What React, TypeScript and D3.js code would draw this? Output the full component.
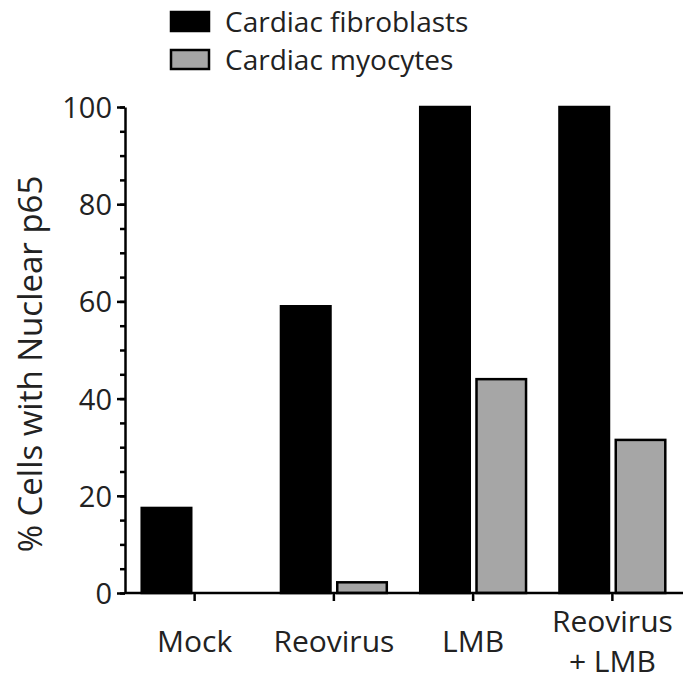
import React, { useRef, useEffect } from 'react';
import * as d3 from 'd3';

const categories = ['Mock', 'Reovirus', 'LMB', 'Reovirus\n+ LMB'];
const seriesNames = ['Cardiac fibroblasts', 'Cardiac myocytes'];
const fibroblasts = [17.5, 59, 100, 100];
const myocytes = [0, 2.2, 44, 31.5];
const yTicks = [0, 20, 40, 60, 80, 100];
const seriesColors = ['#000000', '#a6a6a6'];

function BarChart() {
  const svgRef = useRef<SVGSVGElement>(null);

  useEffect(() => {
    const svg = d3.select(svgRef.current);
    svg.selectAll('*').remove();

    const width = 683;
    const height = 685;
    const left = 125, right = 682, top = 107, bottom = 593;
    const font = "'Open Sans', sans-serif";

    svg.attr('width', width).attr('height', height);

    const x0 = d3.scaleBand().domain(categories).range([left, right])
      .paddingInner(0.24).paddingOuter(0.12);
    const x1 = d3.scaleBand().domain(seriesNames).range([0, x0.bandwidth()])
      .paddingInner(0.12);
    const y = d3.scaleLinear().domain([0, 100]).range([bottom, top]);

    const rows = categories.map((c, i) => ({ cat: c, values: [fibroblasts[i], myocytes[i]] }));

    // bars
    const groups = svg.append('g').selectAll('g')
      .data(rows)
      .enter()
      .append('g')
      .attr('transform', d => `translate(${x0(d.cat)},0)`);

    groups.selectAll('rect')
      .data(d => d.values.map((v, k) => ({ key: seriesNames[k], v, k })))
      .enter()
      .filter(d => d.v > 0)
      .append('rect')
      .attr('x', d => x1(d.key)!)
      .attr('y', d => y(d.v))
      .attr('width', x1.bandwidth())
      .attr('height', d => y(0) - y(d.v))
      .attr('fill', d => seriesColors[d.k])
      .attr('stroke', '#000')
      .attr('stroke-width', 2.5);

    // minor y ticks
    svg.append('g')
      .attr('transform', `translate(${left},0)`)
      .call(d3.axisLeft(y).tickValues(d3.range(0, 101, 5)).tickSize(5).tickFormat(() => ''))
      .call(g => g.select('.domain').remove())
      .selectAll('line').attr('stroke', '#000').attr('stroke-width', 2.5);

    // y axis
    const yAxis = svg.append('g')
      .attr('transform', `translate(${left},0)`)
      .call(d3.axisLeft(y).tickValues(yTicks).tickSize(8).tickSizeOuter(0).tickPadding(5));
    yAxis.select('.domain').attr('stroke', '#000').attr('stroke-width', 2.5);
    yAxis.selectAll('line').attr('stroke', '#000').attr('stroke-width', 2.5);
    yAxis.selectAll('text')
      .attr('font-family', font).attr('font-size', 29).attr('fill', '#222')
      .attr('dy', '0.36em');

    // x axis
    const xAxis = svg.append('g')
      .attr('transform', `translate(0,${bottom})`)
      .call(d3.axisBottom(x0).tickSize(8).tickSizeOuter(0).tickFormat(() => ''));
    xAxis.select('.domain').attr('d', `M${left},0H${width}`)
      .attr('stroke', '#000').attr('stroke-width', 2.5);
    xAxis.selectAll('line').attr('stroke', '#000').attr('stroke-width', 2.5);

    // category labels
    const labels = svg.append('g').selectAll('text')
      .data(categories)
      .enter()
      .append('text')
      .attr('x', d => x0(d)! + x0.bandwidth() / 2)
      .attr('y', 652)
      .attr('text-anchor', 'middle')
      .attr('font-family', font)
      .attr('font-size', 30)
      .attr('fill', '#222');
    labels.each(function (d) {
      const lines = d.split('\n');
      const t = d3.select(this);
      lines.forEach((ln, i) => {
        t.append('tspan')
          .attr('x', x0(d)! + x0.bandwidth() / 2)
          .attr('y', 652 + (i - (lines.length - 1) / 2) * 40)
          .text(ln);
      });
    });

    // y title
    svg.append('text')
      .attr('transform', `translate(42,${(163 + 565) / 2}) rotate(-90)`)
      .attr('text-anchor', 'middle')
      .attr('font-family', font)
      .attr('font-size', 33)
      .attr('fill', '#222')
      .text('% Cells with Nuclear p65');

    // legend
    const legend = svg.append('g').selectAll('g')
      .data(seriesNames)
      .enter()
      .append('g')
      .attr('transform', (d, i) => `translate(171,${12 + i * 38})`);
    legend.append('rect')
      .attr('width', 38).attr('height', 19)
      .attr('fill', (d, i) => seriesColors[i])
      .attr('stroke', '#000').attr('stroke-width', 2.5);
    legend.append('text')
      .attr('x', 54).attr('y', 20)
      .attr('font-family', font).attr('font-size', 28).attr('fill', '#222')
      .text(d => d);
  }, []);

  return <svg ref={svgRef} style={{ position: 'absolute', left: 0, top: 0 }}></svg>;
}

export default function App() {
  return <BarChart />;
}
